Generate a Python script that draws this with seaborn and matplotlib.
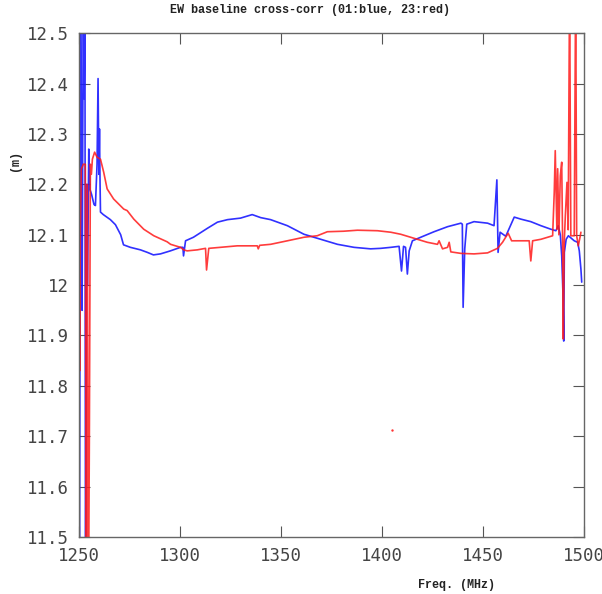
import numpy as np
import pandas as pd
import seaborn as sns
import matplotlib
matplotlib.use("Agg")
import matplotlib.pyplot as plt
from matplotlib.ticker import MultipleLocator

# baseline 01 (blue)
blue_freq = [1250.3, 1250.8, 1251.2, 1251.6, 1252.2, 1252.6, 1253.0, 1253.3, 1253.8, 1254.3,
             1254.9, 1255.5, 1256.3, 1257.5, 1258.2, 1259.0, 1259.5, 1259.9, 1260.2, 1260.5,
             1260.7, 1262.1, 1265.6, 1268.1, 1270.7, 1272.1, 1275.5, 1280.5, 1283.9, 1286.9,
             1290.4, 1295.3, 1300.3, 1301.5, 1301.8, 1302.8, 1306.7, 1313.7, 1318.6, 1323.6,
             1330.0, 1335.8, 1340.0, 1344.9, 1353.2, 1361.4, 1369.7, 1378.0, 1386.2, 1394.4,
             1399.4, 1404.4, 1408.5, 1409.7, 1410.7, 1411.7, 1412.6, 1413.5, 1415.1, 1419.2,
             1425.8, 1432.5, 1439.1, 1439.8, 1440.2, 1441.0, 1442.0, 1445.6, 1452.3, 1455.5,
             1456.9, 1457.5, 1458.5, 1461.3, 1465.5, 1468.8, 1473.7, 1478.7, 1483.6, 1486.1,
             1487.3, 1488.3, 1489.0, 1489.6, 1490.0, 1490.3, 1491.2, 1492.3, 1495.2, 1496.9,
             1497.7, 1498.5, 1498.9]
blue_val = [11.30, 12.60, 12.36, 11.95, 12.60, 12.37, 12.60, 11.30, 12.20, 12.00,
            12.27, 12.19, 12.18, 12.16, 12.158, 12.24, 12.41, 12.22, 12.31, 12.20,
            12.145, 12.14, 12.13, 12.12, 12.10, 12.08, 12.075, 12.07, 12.065, 12.06,
            12.062, 12.068, 12.075, 12.075, 12.058, 12.088, 12.095, 12.113, 12.125, 12.13,
            12.133, 12.140, 12.134, 12.130, 12.118, 12.101, 12.091, 12.081, 12.075, 12.072,
            12.073, 12.075, 12.077, 12.028, 12.077, 12.075, 12.022, 12.068, 12.088, 12.095,
            12.106, 12.116, 12.123, 12.121, 11.956, 12.072, 12.121, 12.126, 12.123, 12.118,
            12.209, 12.065, 12.105, 12.097, 12.135, 12.131, 12.126, 12.118, 12.111, 12.108,
            12.118, 12.10, 12.058, 11.985, 11.889, 12.065, 12.091, 12.098, 12.088, 12.085,
            12.068, 12.032, 12.006]

# baseline 23 (red)
red_freq = [1250.2, 1250.4, 1250.7, 1251.2, 1252.2, 1253.2, 1253.7, 1254.2, 1254.7, 1255.2,
            1255.7, 1256.2, 1256.7, 1257.8, 1259.0, 1260.7, 1262.3, 1264.0, 1267.2, 1272.2,
            1273.9, 1277.2, 1282.1, 1287.1, 1293.7, 1295.4, 1300.3, 1301.9, 1303.6, 1308.6,
            1312.7, 1313.2, 1314.3, 1320.0, 1328.4, 1338.3, 1338.8, 1339.5, 1344.9, 1353.2,
            1361.4, 1368.0, 1373.0, 1381.0, 1387.9, 1397.8, 1404.4, 1409.3, 1415.9, 1422.5,
            1427.5, 1428.3, 1430.0, 1432.5, 1433.3, 1434.1, 1439.1, 1445.6, 1452.3, 1457.2,
            1459.7, 1462.5, 1464.2, 1468.8, 1472.9, 1473.7, 1474.6, 1478.7, 1484.5, 1485.3,
            1485.8, 1486.2, 1486.6, 1487.0, 1487.6, 1488.3, 1489.0, 1489.4, 1489.8, 1490.2,
            1490.8, 1491.6, 1492.2, 1492.9, 1493.5, 1495.2, 1495.9, 1496.4, 1497.2, 1498.2,
            1498.5]
red_val = [12.16, 11.83, 12.10, 12.23, 12.24, 12.24, 11.30, 12.20, 11.30, 11.70,
           12.24, 12.22, 12.25, 12.264, 12.254, 12.25, 12.224, 12.191, 12.171, 12.151,
           12.148, 12.131, 12.111, 12.098, 12.086, 12.081, 12.075, 12.070, 12.068, 12.070,
           12.073, 12.030, 12.073, 12.075, 12.078, 12.078, 12.072, 12.079, 12.081, 12.088,
           12.095, 12.098, 12.106, 12.107, 12.109, 12.108, 12.105, 12.101, 12.093, 12.085,
           12.081, 12.088, 12.072, 12.075, 12.085, 12.066, 12.063, 12.062, 12.064, 12.073,
           12.085, 12.103, 12.088, 12.088, 12.088, 12.048, 12.088, 12.091, 12.098, 12.184,
           12.267, 12.184, 12.111, 12.231, 12.10, 12.217, 12.244, 12.10, 11.893, 12.08,
           12.138, 12.204, 12.11, 12.60, 12.098, 12.098, 12.60, 12.098, 12.078, 12.098,
           12.105]

# lone red sample
red_dot_freq = [1404.8]
red_dot_val = [11.713]

xticks = [1250, 1300, 1350, 1400, 1450, 1500]

df_blue = pd.DataFrame({"freq": blue_freq, "val": blue_val})
df_red = pd.DataFrame({"freq": red_freq, "val": red_val})
df_dot = pd.DataFrame({"freq": red_dot_freq, "val": red_dot_val})

sns.set_style("ticks")
fig = plt.figure(figsize=(6.02, 5.94), dpi=100)
ax = fig.add_axes([0.131, 0.096, 0.839, 0.848])

sns.lineplot(data=df_blue, x="freq", y="val", sort=False, estimator=None,
             color="#1a1aff", lw=1.2, alpha=0.9, ax=ax)
sns.lineplot(data=df_red, x="freq", y="val", sort=False, estimator=None,
             color="#ff1a1a", lw=1.2, alpha=0.85, ax=ax)
sns.scatterplot(data=df_dot, x="freq", y="val", color="#ff3333", s=3,
                linewidth=0, ax=ax)

ax.set_xlim(1250, 1500)
ax.set_ylim(11.5, 12.5)
ax.set_xticks(xticks)
ax.yaxis.set_major_locator(MultipleLocator(0.1))
ax.set_yticklabels([f"{v:g}" for v in np.round(ax.get_yticks(), 1)])
ax.tick_params(which="major", direction="in", top=True, right=True, length=8,
               width=0.8, color="#555555", labelsize=12.5, labelcolor="#444444", pad=7)
for lab in ax.get_xticklabels() + ax.get_yticklabels():
    lab.set_family("DejaVu Sans Mono")
for s in ax.spines.values():
    s.set_color("#666666")
    s.set_linewidth(1.0)
ax.set_xlabel("")
ax.set_ylabel("")

fig.text(310 / 602, 1 - 10 / 594, "EW baseline cross-corr (01:blue, 23:red)",
         family="Liberation Mono", weight="bold", fontsize=8.5, ha="center", va="center",
         color="#222222")
fig.text(457 / 602, 1 - 585 / 594, "Freq. (MHz)", family="Liberation Mono",
         weight="bold", fontsize=8.5, ha="center", va="center", color="#222222")
fig.text(15 / 602, 1 - 161 / 594, "(m)", family="Liberation Mono", weight="bold",
         fontsize=8.5, ha="center", va="center", rotation=90, color="#222222")

plt.savefig("out.png", dpi=100)
